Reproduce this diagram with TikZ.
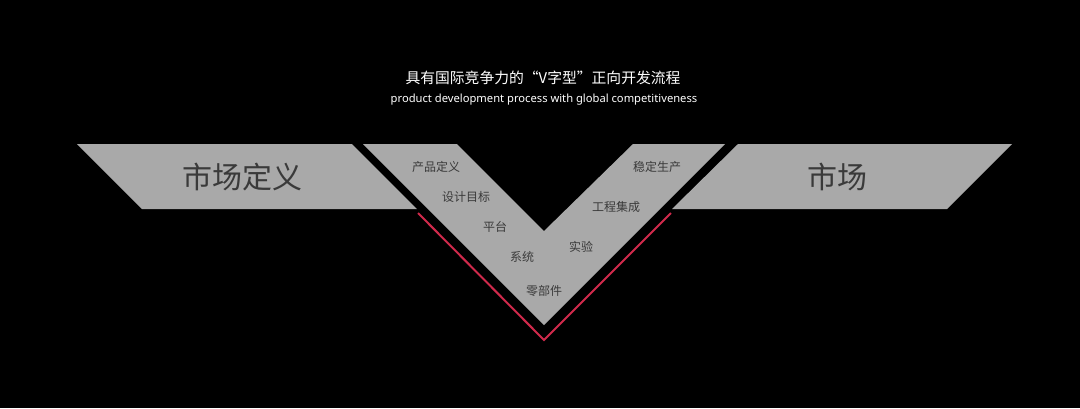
\documentclass[tikz,border=0pt]{standalone}
\usepackage{fontspec}
\setmainfont{Noto Sans}
\newfontfamily\cjk{Noto Sans CJK SC}
\definecolor{shapegray}{HTML}{A9A9A9}
\definecolor{labelgray}{HTML}{3A3A3A}
\definecolor{vred}{HTML}{D02A4C}
\begin{document}
\begin{tikzpicture}[x=1pt,y=-1pt,
  band/.style={fill=shapegray,draw=none},
  biglabel/.style={font=\cjk\fontsize{30}{32}\selectfont,text=labelgray,inner sep=0pt},
  smalllabel/.style={font=\cjk\fontsize{12}{14}\selectfont,text=labelgray,inner sep=0pt},
  redline/.style={draw=vred,line width=2pt}]
\fill[black] (0,0) rectangle (1080,408);
\useasboundingbox (0,0) rectangle (1080,408);
% title
\node[font=\cjk\fontsize{14.8}{17}\selectfont,text=white,inner sep=0pt] (title) at (543,78) {具有国际竞争力的“V字型”正向开发流程};
\node[font=\fontsize{11.2}{13}\selectfont,text=white,inner sep=0pt] (subtitle) at (544,100) {product development process with global competitiveness};
% left band
\path[band] (77,144) -- (352,144) -- (417,209) -- (142,209) -- cycle;
% right band
\path[band] (738,144) -- (1012,144) -- (947,209) -- (672,209) -- cycle;
% V shape
\path[band] (363,144) -- (457,144) -- (544,231) -- (633,144) -- (725,144) -- (544,325) -- cycle;
% red line
\coordinate (r1) at (418,213);
\coordinate (r2) at (544,340);
\coordinate (r3) at (671,213);
\draw[redline] (r1) -- (r2) -- (r3);
% labels
\node[biglabel] (mdef) at (242,177) {市场定义};
\node[biglabel] (mkt) at (837,177) {市场};
\node[smalllabel] (l1) at (436,167) {产品定义};
\node[smalllabel] (l2) at (466,197) {设计目标};
\node[smalllabel] (l3) at (495,227) {平台};
\node[smalllabel] (l4) at (522,257) {系统};
\node[smalllabel] (l5) at (544,291) {零部件};
\node[smalllabel] (r6) at (581,247) {实验};
\node[smalllabel] (r7) at (616,207) {工程集成};
\node[smalllabel] (r8) at (657,167) {稳定生产};
\end{tikzpicture}
\end{document}
